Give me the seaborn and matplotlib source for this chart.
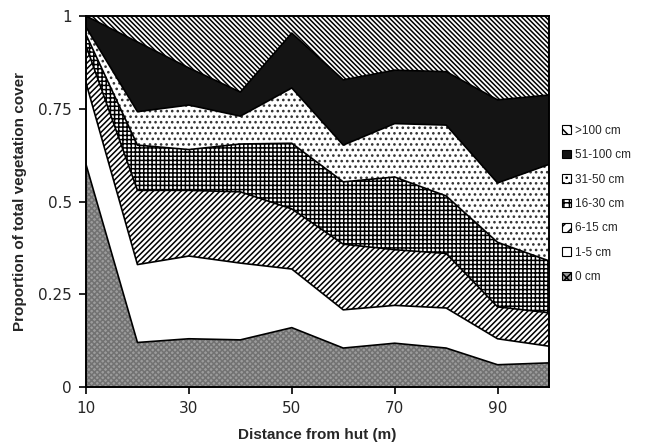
import matplotlib
matplotlib.use('Agg')
import matplotlib.pyplot as plt
from matplotlib.patches import Patch
import seaborn as sns
import numpy as np
import pandas as pd

# distance from hut (m)
distance = [10, 20, 30, 40, 50, 60, 70, 80, 90, 100]

# proportion of total vegetation cover per height class
cover_0 = [0.60, 0.12, 0.13, 0.127, 0.16, 0.105, 0.118, 0.105, 0.06, 0.065]
cover_1_5 = [0.22, 0.21, 0.223, 0.207, 0.158, 0.103, 0.102, 0.108, 0.07, 0.045]
cover_6_15 = [0.10, 0.20, 0.177, 0.192, 0.162, 0.177, 0.15, 0.147, 0.086, 0.09]
cover_16_30 = [0.03, 0.122, 0.11, 0.129, 0.177, 0.168, 0.196, 0.155, 0.174, 0.14]
cover_31_50 = [0.02, 0.09, 0.12, 0.075, 0.149, 0.099, 0.144, 0.191, 0.16, 0.26]
cover_51_100 = [0.03, 0.188, 0.10, 0.065, 0.148, 0.176, 0.144, 0.144, 0.224, 0.187]
cover_100 = [0.0, 0.07, 0.14, 0.205, 0.046, 0.172, 0.146, 0.15, 0.226, 0.213]

labels = ['0 cm', '1-5 cm', '6-15 cm', '16-30 cm', '31-50 cm', '51-100 cm', '>100 cm']

df = pd.DataFrame({'distance': distance, '0 cm': cover_0, '1-5 cm': cover_1_5,
                   '6-15 cm': cover_6_15, '16-30 cm': cover_16_30,
                   '31-50 cm': cover_31_50, '51-100 cm': cover_51_100,
                   '>100 cm': cover_100})

# fill styles (face, hatch, hatch colour) for each layer, bottom to top
styles = {
    '0 cm': ('#9c9c9c', 'xxxxxx', '#727272'),
    '1-5 cm': ('white', '', 'black'),
    '6-15 cm': ('white', '//////', 'black'),
    '16-30 cm': ('white', '++++', 'black'),
    '31-50 cm': ('white', '...', '#333333'),
    '51-100 cm': ('#141414', '', '#141414'),
    '>100 cm': ('white', '\\' * 7, 'black'),
}

sns.set_style('ticks')
plt.rcParams['font.family'] = ['Liberation Sans', 'DejaVu Sans']
plt.rcParams['hatch.linewidth'] = 1.1

fig = plt.figure(figsize=(6.53, 4.45), dpi=100)
ax = fig.add_axes([86 / 653, 1 - 387 / 445, 463 / 653, 371 / 445])

bottom = np.zeros(len(distance))
tops = []
for lab in labels:
    top = bottom + df[lab].values
    face, hatch, hc = styles[lab]
    ax.fill_between(df['distance'], bottom, top, facecolor=face, hatch=hatch,
                    edgecolor=hc, linewidth=0)
    tops.append(top)
    bottom = top

# black boundary lines between layers
long = pd.DataFrame({'distance': np.tile(distance, len(labels) - 1),
                     'y': np.concatenate(tops[:-1]),
                     'layer': np.repeat(labels[:-1], len(distance))})
sns.lineplot(data=long, x='distance', y='y', hue='layer', units='layer',
             estimator=None, palette=['black'] * (len(labels) - 1),
             linewidth=1.2, legend=False, ax=ax)

ax.set_xlim(10, 100)
ax.set_ylim(0, 1)
ax.set_xticks([10, 30, 50, 70, 90])
ax.set_yticks([0, 0.25, 0.5, 0.75, 1])
ax.set_yticklabels(['0', '0.25', '0.5', '0.75', '1'])
for s in ax.spines.values():
    s.set_linewidth(1.4)
    s.set_color('black')
ax.tick_params(direction='out', length=5, width=1.2, color='black',
               labelsize=11, pad=5)
for t in ax.get_xticklabels() + ax.get_yticklabels():
    t.set_family(['DejaVu Sans'])
ax.set_xlabel('Distance from hut (m)', fontsize=11, fontweight='bold', labelpad=9)
ax.set_ylabel('Proportion of total vegetation cover', fontsize=11,
              fontweight='bold', labelpad=8)

handles = [Patch(facecolor=styles[lab][0], hatch=styles[lab][1][:3],
                 edgecolor='black', linewidth=0.8, label=lab)
           for lab in labels[::-1]]
fig.legend(handles=handles, loc='upper left', bbox_to_anchor=(0.853, 0.73),
           frameon=False, fontsize=8.5, handlelength=0.75, handleheight=0.75,
           handletextpad=0.35, labelspacing=1.05, borderaxespad=0)

fig.savefig('out.png', dpi=100)
